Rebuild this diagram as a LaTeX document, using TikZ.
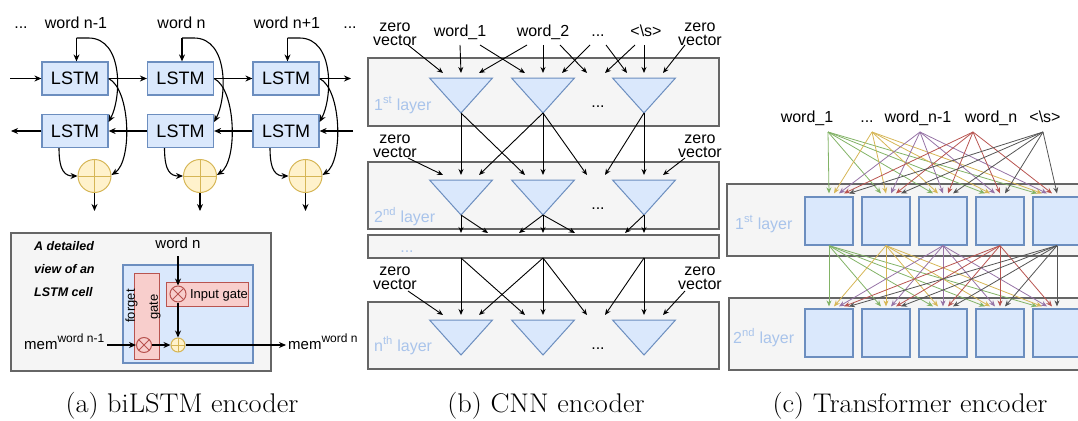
\documentclass[tikz,border=0pt]{standalone}
\usepackage{fontspec}
\setsansfont{Liberation Sans}
\usetikzlibrary{arrows.meta,calc}
\newcommand{\pxfont}[2]{\fontsize{#1}{#2}\selectfont}
\definecolor{bluefill}{HTML}{DAE8FC}
\definecolor{bluestroke}{HTML}{6C8EBF}
\definecolor{yellowfill}{HTML}{FFF2CC}
\definecolor{yellowstroke}{HTML}{D6B656}
\definecolor{redfill}{HTML}{F8CECC}
\definecolor{redstroke}{HTML}{B85450}
\definecolor{grayfill}{HTML}{F5F5F5}
\definecolor{graystroke}{HTML}{666666}
\definecolor{layertext}{HTML}{A9C4EB}
\definecolor{c1}{HTML}{82B366}
\definecolor{c2}{HTML}{D6B656}
\definecolor{c3}{HTML}{9673A6}
\definecolor{c4}{HTML}{B85450}
\definecolor{c5}{HTML}{555555}
\begin{document}
\begin{tikzpicture}[x=1pt,y=-1pt,
  arr/.style={-{Stealth[length=7pt,width=6pt]}, line width=1.1pt},
  carr/.style={-{Stealth[length=6pt,width=5pt]}, line width=0.9pt},
  tarr/.style={-{Stealth[length=6pt,width=5pt]}, line width=0.8pt},
  lbl/.style={font=\sffamily\pxfont{16}{16}, inner sep=0pt},
  layerlbl/.style={font=\sffamily\pxfont{16}{16}, text=layertext, inner sep=0pt, anchor=base west},
  lstm/.style={draw=bluestroke, fill=bluefill, line width=1.2pt, minimum width=66pt,
    minimum height=33pt, inner sep=0pt, font=\sffamily\pxfont{18}{18}},
  sumnode/.style={circle, draw=yellowstroke, fill=yellowfill, line width=1pt,
    minimum size=#1, inner sep=0pt,
    path picture={\draw[yellowstroke, line width=1pt]
      (path picture bounding box.north) -- (path picture bounding box.south)
      (path picture bounding box.west) -- (path picture bounding box.east);}},
  mulnode/.style={circle, draw=redstroke, fill=redfill, line width=1pt,
    minimum size=#1, inner sep=0pt,
    path picture={\draw[redstroke, line width=1pt]
      (path picture bounding box.north west) -- (path picture bounding box.south east)
      (path picture bounding box.north east) -- (path picture bounding box.south west);}},
  gatebox/.style={draw=redstroke, fill=redfill, line width=1pt, inner sep=0pt},
  panelbox/.style={draw=graystroke, fill=grayfill, line width=1.2pt},
  cellbox/.style={draw=bluestroke, fill=bluefill, line width=1.2pt},
  tri/.style={draw=bluestroke, fill=bluefill, line width=1pt},
  tnode/.style={draw=bluestroke, fill=bluefill, line width=1.2pt, minimum size=48pt, inner sep=0pt},
  caption/.style={font=\pxfont{27}{27}, inner sep=0pt, anchor=base}
]
\useasboundingbox (0,0) rectangle (1078,420);

% ---------------- (a) biLSTM encoder ----------------
\node[lbl, anchor=base] at (21,29) {...};
\node[lbl, anchor=base] at (350,29) {...};
\foreach \i/\x/\w in {1/75/word n-1, 2/180.5/word n, 3/286/word n+1} {
  \node[lstm] (f\i) at (\x,78.5) {LSTM};
  \node[lstm] (b\i) at (\x,131) {LSTM};
  \node[sumnode=33pt] (s\i) at (\x+19.5,176) {};
  \node[lbl, anchor=base] (w\i) at (\x+1,29) {\w};
  \coordinate (j\i) at (\x+1.5,38);
  \coordinate (o\i) at (\x+19.5,211);
  \draw[arr] (j\i) -- (j\i |- f\i.north);
  \draw[arr] (j\i) -- ++(12,0) .. controls +(35,0) and +(13,-24) .. ([yshift=9pt]b\i.east);
  \draw[arr] (f\i.east) .. controls +(22,11) and +(21,-14) .. ([yshift=1pt]s\i.east);
  \draw[arr] ([xshift=-16pt]b\i.south) .. controls +(0,24) and +(-12,0) .. (s\i.west);
  \draw[arr] (s\i.south) -- (o\i);
}
\coordinate (inL) at (10,78.5);
\coordinate (outR) at (351,78.5);
\coordinate (inR) at (353,131);
\coordinate (outL) at (11,131);
\draw[arr] (inL) -- (f1.west);
\draw[arr] (f1.east) -- (f2.west);
\draw[arr] (f2.east) -- (f3.west);
\draw[arr] (f3.east) -- (outR);
\draw[arr] (inR) -- (b3.east);
\draw[arr] (b3.west) -- (b2.east);
\draw[arr] (b2.west) -- (b1.east);
\draw[arr] (b1.west) -- (outL);

% detailed view of one cell
\draw[panelbox] (11,233) rectangle (271,371);
\begin{scope}[font=\sffamily\bfseries\itshape\pxfont{12.5}{12.5}]
  \node[inner sep=0pt, anchor=base west] at (34,250) {A detailed};
  \node[inner sep=0pt, anchor=base west] at (34,273) {view of an};
  \node[inner sep=0pt, anchor=base west] at (34,296) {LSTM cell};
\end{scope}
\draw[cellbox] (123,265) rectangle (253,363);
\node[gatebox, minimum width=25pt, minimum height=86pt] (fg) at (146.5,316) {};
\node[gatebox, minimum width=82pt, minimum height=24pt] (ig) at (207,294) {};
\node[font=\sffamily\pxfont{13}{13}, inner sep=0pt, rotate=90] at (131.5,306) {forget};
\node[font=\sffamily\pxfont{13}{13}, inner sep=0pt, rotate=90] at (155,307) {gate};
\node[mulnode=16pt] (m1) at (178,294) {};
\node[font=\sffamily\pxfont{13}{13}, inner sep=0pt, anchor=base] at (219,298) {Input gate};
\node[mulnode=15pt] (m2) at (144,345) {};
\node[sumnode=14pt] (p1) at (178,345) {};
\node[font=\sffamily\pxfont{15}{15}, inner sep=0pt, anchor=base] (wn) at (178,248) {word n};
\node[font=\sffamily\pxfont{15}{15}, inner sep=0pt, anchor=base west] (memin) at (24,349)
  {mem\raisebox{7pt}{\pxfont{12}{12}word n-1}};
\node[font=\sffamily\pxfont{15}{15}, inner sep=0pt, anchor=base west] (memout) at (288,349)
  {mem\raisebox{7pt}{\pxfont{12}{12}word n}};
\coordinate (wnout) at (178,256);
\draw[arr] (wnout) -- (m1.north);
\draw[arr] (m1.south) -- (p1.north);
\draw[arr] ([xshift=3pt]memin.east |- m2) -- (m2.west);
\draw[arr] (m2.east) -- (p1.west);
\draw[arr] (p1.east) -- ([xshift=-2pt]memout.west |- p1);

% ---------------- (b) CNN encoder ----------------
\draw[panelbox] (368,58) rectangle (719,126);
\draw[panelbox] (368,162) rectangle (719,229);
\draw[panelbox] (368,235) rectangle (719,258);
\draw[panelbox] (368,302) rectangle (719,369);
\node[layerlbl] at (374,110) {1\textsuperscript{st} layer};
\node[layerlbl] at (374,222) {2\textsuperscript{nd} layer};
\node[layerlbl] at (374,351) {n\textsuperscript{th} layer};
\node[font=\sffamily\pxfont{16}{16}, text=layertext, inner sep=0pt, anchor=base] at (407,252) {...};
\foreach \ly/\t in {p/78, q/180, r/320} {
  \foreach \k/\x in {1/461, 2/543, 3/644} {
    \draw[tri] (\x-31.5,\t) -- (\x+31.5,\t) -- (\x,\t+35) -- cycle;
    \coordinate (\ly-a\k) at (\x,\t+35);
  }
  \node[lbl, anchor=base] at (598,\t+29) {...};
  \foreach \n/\x in {zl/443, 1c/461, 1r/479, 2l/525, 2c/543, 2r/562,
                     dl/587, dr/605, 3l/627, 3c/644, zr/663}
    \coordinate (\ly-\n) at (\x,\t-5);
}
% inputs of the first layer
\node[lbl, align=center, font=\sffamily\pxfont{16}{14}] (zv1) at (395,34) {zero\\vector};
\node[lbl, align=center, font=\sffamily\pxfont{16}{14}] (zv2) at (700,34) {zero\\vector};
\node[lbl, anchor=base] (cw1) at (460,37) {word\_1};
\node[lbl, anchor=base] (cw2) at (543,37) {word\_2};
\node[lbl, anchor=base] (cw3) at (598,37) {...};
\node[lbl, anchor=base] (cw4) at (646,37) {\textless\textbackslash s\textgreater};
\foreach \n/\x in {zl/408, w1a/460, w1b/480, w2a/527, w2b/543, w2c/560,
                   da/590, db/606, sa/635, sb/644, zr/685}
  \coordinate (in-\n) at (\x,45);
\foreach \a/\b in {in-zl/p-zl, in-w1a/p-1c, in-w1b/p-2l, in-w2a/p-1r, in-w2b/p-2c,
                   in-w2c/p-dl, in-da/p-2r, in-db/p-3l, in-sa/p-dr, in-sb/p-3c, in-zr/p-zr}
  \draw[carr] (\a) -- (\b);
% first layer to second layer
\node[lbl, align=center, font=\sffamily\pxfont{16}{14}] (zv3) at (395,146) {zero\\vector};
\node[lbl, align=center, font=\sffamily\pxfont{16}{14}] (zv4) at (700,146) {zero\\vector};
\coordinate (zq-l) at (408,158);
\coordinate (zq-r) at (685,158);
\foreach \a/\b in {zq-l/q-zl, p-a1/q-1c, p-a1/q-2l, p-a2/q-1r, p-a2/q-2c, p-a2/q-dl,
                   p-a3/q-dr, p-a3/q-3c, zq-r/q-zr}
  \draw[carr] (\a) -- (\b);
% second layer to the intermediate layers
\foreach \n/\x in {1/461, 2/488, 3/519, 4/543, 5/575, 6/625, 7/644}
  \coordinate (mi-\n) at (\x,233);
\foreach \a/\b in {q-a1/mi-1, q-a1/mi-2, q-a2/mi-3, q-a2/mi-4, q-a2/mi-5, q-a3/mi-6, q-a3/mi-7}
  \draw[carr] (\a) -- (\b);
% intermediate layers to the last layer
\foreach \k/\x in {1/461, 2/543, 3/644}
  \coordinate (mo-\k) at (\x,258);
\node[lbl, align=center, font=\sffamily\pxfont{16}{14}] (zv5) at (395,278) {zero\\vector};
\node[lbl, align=center, font=\sffamily\pxfont{16}{14}] (zv6) at (700,278) {zero\\vector};
\coordinate (zr-l) at (408,291);
\coordinate (zr-r) at (685,291);
\foreach \a/\b in {zr-l/r-zl, mo-1/r-1c, mo-1/r-2l, mo-2/r-1r, mo-2/r-2c, mo-2/r-dl,
                   mo-3/r-dr, mo-3/r-3c, zr-r/r-zr}
  \draw[carr] (\a) -- (\b);

% ---------------- (c) Transformer encoder ----------------
\begin{scope}
\clip (0,0) rectangle (1078,420);
\draw[panelbox] (727,184) rectangle (1090,256);
\draw[panelbox] (729,298) rectangle (1090,370);
\node[layerlbl] at (735,229) {1\textsuperscript{st} layer};
\node[layerlbl] at (733,343) {2\textsuperscript{nd} layer};
\foreach \i/\x in {1/829, 2/886, 3/943, 4/1000, 5/1057} {
  \node[tnode] (u\i) at (\x,221) {};
  \node[tnode] (v\i) at (\x,333) {};
}
\node[lbl, anchor=base] (tw1) at (807,122) {word\_1};
\node[lbl, anchor=base] (tw2) at (867,122) {...};
\node[lbl, anchor=base] (tw3) at (918,122) {word\_n-1};
\node[lbl, anchor=base] (tw4) at (991,122) {word\_n};
\node[lbl, anchor=base] (tw5) at (1045,122) {\textless\textbackslash s\textgreater};
\foreach \j/\x in {1/828, 2/872, 3/920, 4/973, 5/1043}
  \coordinate (ts\j) at (\x,132);
\foreach \j in {1,...,5} {
  \foreach \i in {1,...,5} {
    \draw[tarr, draw=c\j] (ts\j) -- ([xshift={(\j-\i)*5pt}, yshift=3pt]u\i.north);
    \draw[tarr, draw=c\j] (u\j.south) -- ([xshift={(\j-\i)*5pt}, yshift=2pt]v\i.north);
  }
}
\end{scope}

% ---------------- captions ----------------
\node[caption] at (182,412) {\scalebox{1.05}[1]{(a) biLSTM encoder}};
\node[caption] at (546,412) {\scalebox{1.05}[1]{(b) CNN encoder}};
\node[caption] at (910,412) {\scalebox{1.05}[1]{(c) Transformer encoder}};
\end{tikzpicture}
\end{document}
